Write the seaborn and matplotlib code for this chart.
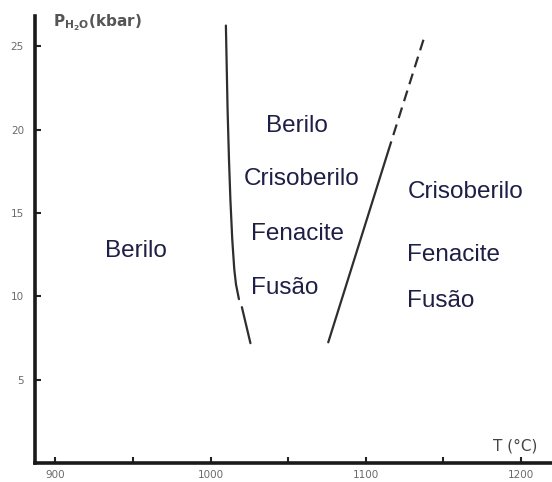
import matplotlib
matplotlib.use("Agg")
import matplotlib.pyplot as plt
import seaborn as sns
import pandas as pd

# Phase boundary curves (T in °C, P_H2O in kbar)
left_upper_T = [1009.9, 1011.0, 1011.9, 1012.8, 1014.0, 1015.3, 1016.4, 1018.3]
left_upper_P = [26.25, 21.17, 18.19, 15.81, 13.42, 11.63, 10.73, 9.84]
left_lower_T = [1020.2, 1025.7]
left_lower_P = [9.36, 7.2]
right_dash_T = [1137.1, 1114.7]
right_dash_P = [25.4, 18.8]
right_solid_T = [1114.7, 1075.8]
right_solid_P = [18.8, 7.25]

# Field labels (anchored at centre / baseline)
labels = ["Berilo", "Berilo", "Crisoberilo", "Fenacite", "Fusão",
          "Crisoberilo", "Fenacite", "Fusão"]
label_T = [952.2, 1055.7, 1058.9, 1055.7, 1047.6, 1164.4, 1156.4, 1148.3]
label_P = [12.34, 19.87, 16.70, 13.36, 10.13, 15.93, 12.10, 9.36]

xticks = [900, 950, 1000, 1050, 1100, 1150, 1200]
xticklabels = ["900", "", "1000", "", "1100", "", "1200"]
yticks = [5, 10, 15, 20, 25]

sns.set_style("ticks")
fig = plt.figure(figsize=(5.52, 4.82), dpi=100)
ax = fig.add_axes([0.0634, 0.039, 0.937, 0.927])

curves = [
    (pd.DataFrame({"T": left_upper_T, "P": left_upper_P}), "-"),
    (pd.DataFrame({"T": left_lower_T, "P": left_lower_P}), "-"),
    (pd.DataFrame({"T": right_solid_T, "P": right_solid_P}), "-"),
    (pd.DataFrame({"T": right_dash_T, "P": right_dash_P}), (0, (5, 3))),
]
for df, ls in curves:
    sns.lineplot(data=df, x="T", y="P", color="#2e2e2e", linewidth=1.6,
                 linestyle=ls, sort=False, estimator=None, ax=ax)

for txt, t, p in zip(labels, label_T, label_P):
    ax.text(t, p, txt, ha="center", va="baseline", fontsize=17.5,
            family="Liberation Sans", color="#1e1e46")

ax.set_xlim(887, 1220)
ax.set_ylim(0, 26.8)
ax.set_xticks(xticks)
ax.set_xticklabels(xticklabels)
ax.set_yticks(yticks)
ax.tick_params(direction="in", length=4, width=1.5, color="#222222",
               labelsize=7.5, labelcolor="#6a6a6a")
ax.tick_params(axis="x", pad=5)
ax.tick_params(axis="y", pad=8)
ax.set_xlabel("")
ax.set_ylabel("")

for side in ("top", "right"):
    ax.spines[side].set_visible(False)
for side in ("left", "bottom"):
    ax.spines[side].set_linewidth(2.6)
    ax.spines[side].set_color("#1a1a1a")

ax.text(0.035, 1.008, r"$\mathregular{P_{H_2O}}$(kbar)", transform=ax.transAxes,
        fontsize=11, color="#555555", ha="left", va="top", fontweight="bold")
ax.text(0.886, 0.029, "T (°C)", transform=ax.transAxes,
        fontsize=11, color="#444444", ha="left", va="baseline")

fig.savefig("out.png", dpi=100)
